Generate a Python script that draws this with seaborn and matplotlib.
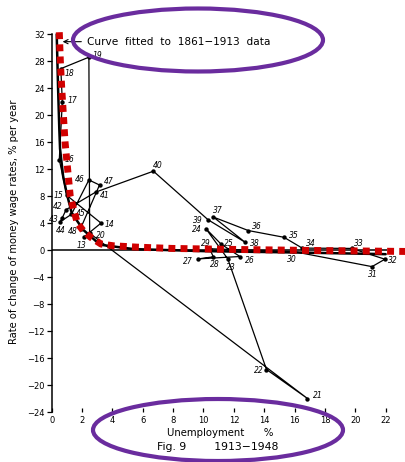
import numpy as np
import pandas as pd
import matplotlib
matplotlib.use("Agg")
import matplotlib.pyplot as plt
from matplotlib.patches import Ellipse
import seaborn as sns

# ---------------- data ----------------
years = [13, 14, 15, 16, 17, 18, 19, 20, 21, 22, 23, 24, 25, 26, 27, 28, 29, 30,
         31, 32, 33, 34, 35, 36, 37, 38, 39, 40, 41, 42, 43, 44, 45, 46, 47, 48]
unemployment = [2.1, 3.25, 1.0, 0.5, 0.7, 0.6, 2.45, 2.5, 16.85, 14.15, 11.6, 10.15,
                11.15, 12.4, 9.65, 10.65, 10.4, 15.9, 21.1, 21.95, 19.75, 16.5, 15.3,
                12.95, 10.65, 12.75, 10.3, 6.7, 2.9, 0.95, 0.7, 0.55, 1.3, 2.45, 3.15, 1.9]
wage_change = [1.9, 4.0, 8.1, 13.4, 22.0, 26.9, 28.6, 2.5, -22.0, -17.7, -1.3, 3.2,
               0.9, -0.95, -1.3, -1.0, 0.2, -0.2, -2.45, -1.35, 0.25, 0.3, 1.9,
               2.9, 4.9, 1.15, 4.5, 11.7, 8.6, 6.0, 4.8, 4.2, 5.3, 10.4, 9.65, 3.2]

# fitted 1861-1913 curve (black, as drawn in the figure)
fit_x = [0.33, 0.42, 0.5, 0.55, 0.75, 0.99, 1.32, 2.08, 3.18, 5.4, 10.0, 16.0, 22.0]
fit_y = [32.0, 24.0, 18.0, 15.0, 11.0, 8.4, 5.5, 3.0, 0.8, 0.15, -0.15, -0.35, -0.6]

# red dotted overlay curve
red_x = [0.50, 0.57, 0.66, 0.77, 0.88, 1.05, 1.22, 1.45, 1.69, 2.1, 2.57, 3.25, 4.06,
         5.6, 7.9, 12.0, 17.0, 23.3]
red_y = [32.3, 28.0, 24.0, 20.0, 16.0, 12.0, 8.0, 6.0, 4.0, 2.8, 1.9, 0.9, 0.64,
         0.44, 0.25, 0.1, -0.05, -0.2]

x_ticks = [0, 2, 4, 6, 8, 10, 12, 14, 16, 18, 20, 22]
y_ticks = [-24, -20, -16, -12, -8, -4, 0, 4, 8, 12, 16, 20, 24, 28, 32]

# label offsets (pixels) and alignment for year labels
label_style = {
    13: (-2, -8, 'center'), 14: (4, -1, 'left'), 15: (-4, 0, 'right'),
    16: (5, 0, 'left'), 17: (5, 1, 'left'), 18: (4, -5, 'left'),
    19: (4, 2, 'left'), 20: (6, -2, 'left'), 21: (5, 3, 'left'),
    22: (-3, -1, 'right'), 23: (3, -9, 'center'), 24: (-4, -1, 'right'),
    25: (3, 1, 'left'), 26: (5, -4, 'left'), 27: (-5, -3, 'right'),
    28: (1, -8, 'center'), 29: (-4, 5, 'center'), 30: (-1, -8, 'center'),
    31: (1, -8, 'center'), 32: (3, -1, 'left'), 33: (2, 5, 'left'),
    34: (4, 5, 'left'), 35: (5, 2, 'left'), 36: (4, 4, 'left'),
    37: (4, 7, 'center'), 38: (5, -1, 'left'), 39: (-5, -1, 'right'),
    40: (4, 6, 'center'), 41: (4, -3, 'left'), 42: (-4, 3, 'right'),
    43: (-4, -2, 'right'), 44: (1, -9, 'center'), 45: (4, 1, 'left'),
    46: (-4, 0, 'right'), 47: (4, 4, 'left'), 48: (-3, -3, 'right'),
}

df = pd.DataFrame({"year": years, "u": unemployment, "w": wage_change})
fit_df = pd.DataFrame({"u": fit_x, "w": fit_y})
red_df = pd.DataFrame({"u": red_x, "w": red_y})

# ---------------- figure ----------------
sns.set_theme(style="white")
plt.rcParams["font.family"] = ["DejaVu Sans"]

W, H = 406, 462
fig = plt.figure(figsize=(W / 100, H / 100), dpi=100)
fig.patch.set_facecolor("white")

ax = fig.add_axes([51.7 / W, (H - 412) / H, (W - 51.7) / W, (412 - 30.2) / H])
ax.set_facecolor("white")
ax.set_xlim(0, 23.34)
ax.set_ylim(-24, 32.6)

# zero line
ax.hlines(0, 0, 22.1, color="black", lw=1.1, zorder=2)

# fitted curve
sns.lineplot(data=fit_df, x="u", y="w", sort=False, estimator=None, errorbar=None,
             color="black", lw=1.8, ax=ax, zorder=3, clip_on=False)

# yearly path
sns.lineplot(data=df, x="u", y="w", sort=False, estimator=None, errorbar=None,
             color="black", lw=0.9, ax=ax, zorder=4)
sns.scatterplot(data=df, x="u", y="w", color="black", s=10, edgecolor="black",
                linewidth=0, ax=ax, zorder=5)

for yr, u, w in zip(years, unemployment, wage_change):
    dx, dy, ha = label_style[yr]
    ax.annotate(str(yr), (u, w), xytext=(dx, dy), textcoords="offset pixels",
                ha=ha, va="center", fontsize=5.5, style="italic", color="black",
                zorder=6)

# red overlay
sns.lineplot(data=red_df, x="u", y="w", sort=False, estimator=None, errorbar=None,
             color="#d00000", lw=5.0, ax=ax, zorder=7, clip_on=False)
redline = ax.lines[-1]
redline.set_linestyle((0, (1.0, 0.75)))
redline.set_dash_capstyle("butt")

# annotation text with arrow
ax.annotate("Curve  fitted  to  1861\u22121913  data", xy=(0.72, 30.9),
            xytext=(2.35, 30.9), textcoords="data", ha="left", va="center",
            fontsize=7.6, color="black",
            arrowprops=dict(arrowstyle="->", color="black", lw=0.8,
                            shrinkA=2, shrinkB=0))

# axes styling
for s in ["top", "right", "bottom"]:
    ax.spines[s].set_visible(False)
ax.spines["left"].set_bounds(-24, 32)
ax.spines["left"].set_color("black")
ax.spines["left"].set_linewidth(1.1)

ax.set_xticks(x_ticks)
ax.set_xticklabels([str(t) for t in x_ticks])
ax.set_yticks(y_ticks)
ax.set_yticklabels([str(t).replace("-", "\u2212") for t in y_ticks])
ax.tick_params(axis="y", direction="out", length=3.5, width=0.9, pad=1.5,
               labelsize=6, colors="black", left=True)
ax.tick_params(axis="x", direction="in", length=3, width=0.9, pad=3,
               labelsize=6, colors="black", bottom=True)
ax.set_xlabel("")
ax.set_ylabel("")

fig.text(14 / W, 1 - 222 / H, "Rate of change of money wage rates, % per year",
         rotation=90, ha="center", va="center", fontsize=7.2, color="black")
fig.text(220 / W, 1 - 433 / H, "Unemployment      %", ha="center", va="center",
         fontsize=7.3, color="black")
fig.text(218 / W, 1 - 447 / H, "Fig. 9        1913\u22121948", ha="center",
         va="center", fontsize=7.8, color="black")

# purple ellipses overlay
oax = fig.add_axes([0, 0, 1, 1], zorder=10)
oax.set_xlim(0, W)
oax.set_ylim(H, 0)
oax.axis("off")
oax.patch.set_alpha(0)
purple = "#6a2c9e"
oax.add_patch(Ellipse((198, 40), 250, 63, fill=False, edgecolor=purple, lw=3.0))
oax.add_patch(Ellipse((218, 430), 250, 62, fill=False, edgecolor=purple, lw=3.0))

fig.savefig("out.png", dpi=100, facecolor="white")
